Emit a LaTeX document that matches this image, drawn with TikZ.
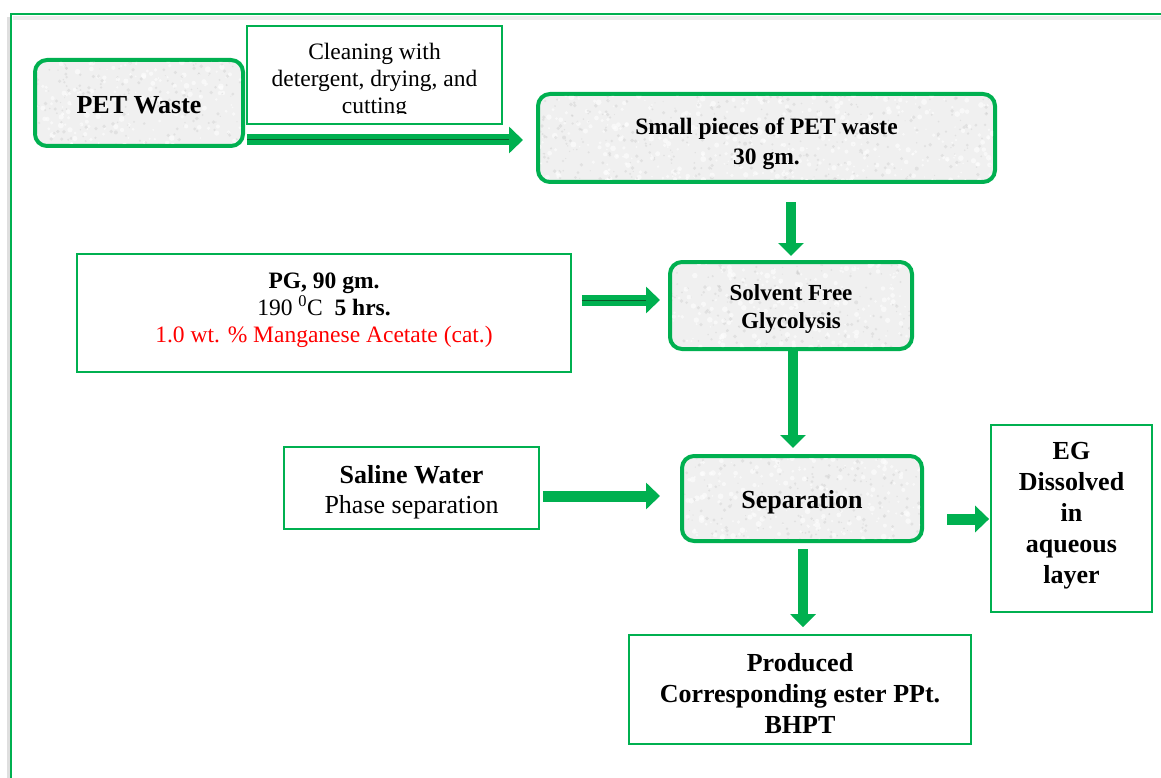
\documentclass[tikz,border=0pt]{standalone}
\usepackage{fontspec}
\setmainfont{Liberation Serif}
\usetikzlibrary{arrows.meta,calc}
\definecolor{G}{HTML}{00B050}
\definecolor{DG}{HTML}{0B5A2A}
\newcommand\marbletex[5]{%
  \begin{scope}
    \clip[rounded corners=10pt] (#1+2,#2+2) rectangle (#3-2,#4-2);
    \foreach \k in {1,...,#5}{%
      \pgfmathsetmacro\xx{#1+rnd*(#3-#1)}%
      \pgfmathsetmacro\yy{#2+rnd*(#4-#2)}%
      \pgfmathsetmacro\rr{0.8+rnd*2.2}%
      \fill[white, opacity=0.55] (\xx,\yy) circle (\rr pt);
      \pgfmathsetmacro\xx{#1+rnd*(#3-#1)}%
      \pgfmathsetmacro\yy{#2+rnd*(#4-#2)}%
      \pgfmathsetmacro\rr{0.5+rnd*1.5}%
      \fill[gray!45, opacity=0.35] (\xx,\yy) circle (\rr pt);
    }
  \end{scope}}
\begin{document}
\begin{tikzpicture}[x=1pt,y=-1pt,
  soft/.style={draw=G, line width=4pt, rounded corners=12pt, fill=gray!12, inner sep=0pt},
  plain/.style={draw=G, line width=1.8pt, fill=white, inner sep=0pt},
  txt/.style={align=center, inner sep=0pt},
  fat/.style={draw=G, line width=11pt, -{Triangle[length=14pt,width=26pt]}},
  vfat/.style={draw=G, line width=10pt, -{Triangle[length=13pt,width=25pt]}},
  inner/.style={draw=DG, line width=0.9pt},
  big/.style={font=\bfseries\fontsize{26}{31}\selectfont},
]
\pgfmathsetseed{7}
\useasboundingbox (0,0) rectangle (1161,778);
% outer frame
\draw[gray!25, line width=3pt] (8,778) -- (8,17);
\draw[gray!15, line width=4pt] (13,18) -- (1161,18);
\draw[G, line width=2pt] (11,780) -- (11,14) -- (1163,14);

% boxes
\node[soft, minimum width=208pt, minimum height=86pt] (pet) at (139,103) {};
\marbletex{35}{60}{243}{146}{180}
\node[plain, minimum width=255pt, minimum height=98pt] (clean) at (374.5,75) {};
\node[soft, minimum width=457pt, minimum height=88pt] (small) at (766.5,138) {};
\marbletex{538}{94}{995}{182}{400}
\node[soft, minimum width=242pt, minimum height=87pt] (solv) at (791,305.5) {};
\marbletex{670}{262}{912}{349}{210}
\node[plain, minimum width=494pt, minimum height=118pt] (pg) at (324,313) {};
\node[soft, minimum width=240pt, minimum height=85pt] (sep) at (802,498.5) {};
\marbletex{682}{456}{922}{541}{205}
\node[plain, minimum width=255pt, minimum height=82pt] (saline) at (411.5,488) {};
\node[plain, minimum width=161pt, minimum height=187pt] (eg) at (1071.5,518.5) {};
\node[plain, minimum width=342pt, minimum height=109pt] (prod) at (800,689.5) {};

% texts
\node[txt, big] (pett) at ($(pet.center)+(0,2)$) {PET Waste};
\begin{scope}
\clip (247,26) rectangle (502,113.5);
\node[txt, anchor=north, font=\fontsize{23.5}{27}\selectfont] (cleant) at ($(clean.north)+(0,18)$) {Cleaning with\\detergent, drying, and\\cutting};
\end{scope}
\node[txt, font=\bfseries\fontsize{23.5}{30}\selectfont] (smallt) at ($(small.center)+(0,6)$) {Small pieces of PET waste\\30 gm.};
\node[txt, font=\bfseries\fontsize{23}{28}\selectfont] (solvt) at ($(solv.center)+(0,4)$) {Solvent Free\\Glycolysis};
\node[txt, font=\fontsize{23.5}{27}\selectfont] (pgt) at ($(pg.center)+(0,-3)$)
  {{\bfseries PG, 90 gm.}\\190 \textsuperscript{0}C\ \ {\bfseries 5 hrs.}\\\textcolor{red}{1.0 wt. \% Manganese Acetate (cat.)}};
\node[txt, big] (sept) at ($(sep.center)+(0,4)$) {Separation};
\node[txt, font=\fontsize{26}{30}\selectfont] (salinet) at ($(saline.center)+(0,4)$) {{\bfseries Saline Water}\\Phase separation};
\node[txt, big] (egt) at ($(eg.center)+(0,-3)$) {EG\\Dissolved\\in\\aqueous\\layer};
\node[txt, big] (prodt) at ($(prod.center)+(0,4)$) {Produced\\Corresponding ester PPt.\\BHPT};

% connectors
\draw[fat] ($(pet.east)+(2,37)$) -- ($(pet.east -| small.west)+(-13,37)$);
\draw[inner] ($(pet.east)+(2,36)$) -- ($(pet.east -| small.west)+(-27,36)$);
\draw[vfat] ($(solv.north |- small.south)+(0,18)$) -- ($(solv.north)+(0,-4)$);
\draw[fat] ($(pg.east)+(10,-13)$) -- ($(solv.west)+(-8,-5.5)$);
\draw[inner] ($(pg.east)+(10,-13)$) -- ($(solv.west)+(-22,-5.5)$);
\draw[vfat] ($(solv.south)+(2,0)$) -- ($(solv.south |- sep.north)+(2,-6)$);
\draw[fat] ($(saline.east)+(3,8)$) -- ($(sep.west)+(-20,-2.5)$);
\draw[fat] ($(sep.east)+(23,20.5)$) -- ($(eg.west)+(-1,0.5)$);
\draw[vfat] ($(sep.south)+(1,6)$) -- ($(sep.south |- prod.north)+(1,-7)$);
\end{tikzpicture}
\end{document}
